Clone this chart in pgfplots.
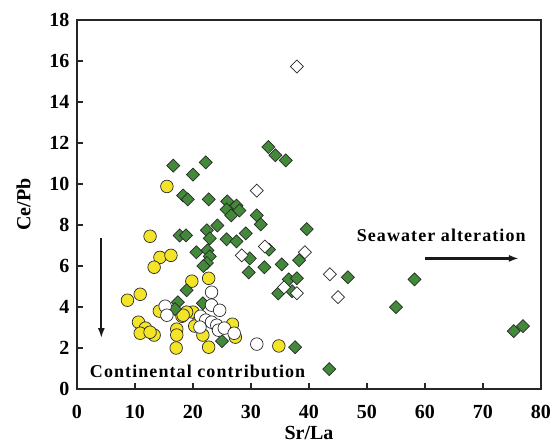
\documentclass[border=0pt]{standalone}
\usepackage{fontspec}
\setmainfont{Liberation Serif}
\newfontfamily\spacedserif[LetterSpace=6]{Liberation Serif}
\usepackage{pgfplots}
\pgfplotsset{compat=1.18}
\usetikzlibrary{arrows.meta}
\definecolor{ygold}{RGB}{244,228,40}
\definecolor{dgreen}{RGB}{66,138,58}
\definecolor{edge}{RGB}{40,40,40}

\begin{document}
\begin{tikzpicture}
\useasboundingbox (-77pt,-55pt) rectangle (473pt,389pt);
\begin{axis}[
  scale only axis, width=464pt, height=369pt,
  xmin=0, xmax=80, ymin=0, ymax=18,
  xtick={0,10,...,80}, ytick={0,2,...,18},
  tick align=inside, xtick pos=bottom, ytick pos=left,
  major tick length=6pt,
  axis line style={line width=1.2pt, black!85},
  every tick/.style={line width=1.2pt, black!85},
  tick label style={font=\fontsize{20}{22}\selectfont\bfseries},
  xticklabel style={yshift=-13pt},
  yticklabel style={xshift=-4pt},
  /pgf/number format/assume math mode=true,
  xlabel={Sr/La}, ylabel={Ce/Pb},
  label style={font=\fontsize{20}{22}\selectfont\bfseries},
  xlabel style={at={(axis description cs:0.5,-0.119)}, anchor=center},
  ylabel style={at={(axis description cs:-0.115,0.5)}, anchor=center, rotate=0},
  clip=false,
]
% basalt group (yellow circles)
\addplot[only marks, mark=*, mark size=6.3pt,
  mark options={fill=ygold, draw=edge, line width=0.7pt}] coordinates {
 (15.5,9.88) (12.6,7.45) (14.3,6.42) (16.2,6.52) (13.3,5.94)
 (19.8,5.26) (22.7,5.40) (8.7,4.33) (10.9,4.62) (10.6,3.26)
 (11.8,2.97) (10.9,2.72) (13.3,2.63) (17.2,2.92) (17.2,2.63)
 (17.1,2.00) (22.7,2.04) (18.1,3.55) (20.0,3.75) (14.2,3.80)
 (21.0,3.30) (20.3,3.07) (21.7,2.63) (26.8,3.16) (27.3,2.53)
 (34.8,2.10) (18.9,3.75) (18.3,3.60) (12.6,2.77)
};
% green diamonds
\addplot[only marks, mark=square*, mark size=4.6pt,
  mark options={rotate=45, fill=dgreen, draw=edge, line width=0.7pt}] coordinates {
 (16.6,10.9) (22.2,11.05) (20.0,10.46) (18.3,9.44) (19.1,9.25)
 (22.7,9.25) (24.2,7.98) (17.7,7.49) (18.8,7.49) (22.4,7.74)
 (22.9,7.35) (20.6,6.67) (22.5,6.76) (25.9,9.15) (27.5,8.95)
 (25.8,8.76) (26.6,8.47) (28.0,8.71) (31.0,8.47) (31.7,8.03)
 (25.8,7.30) (27.5,7.20) (29.1,7.59) (33.0,11.8) (34.2,11.4)
 (36.0,11.15) (39.6,7.80) (33.1,6.80) (29.8,6.37) (32.3,5.94)
 (35.3,6.08) (38.3,6.28) (46.7,5.45) (36.5,5.35) (37.9,5.40)
 (34.7,4.67) (37.1,4.77) (55.0,3.99) (58.2,5.35) (75.3,2.82)
 (76.9,3.07) (43.5,0.97) (25.0,2.34) (37.6,2.04) (29.6,5.69)
 (18.9,4.82) (17.4,4.23) (21.7,4.18) (16.9,3.90) (22.9,6.47)
 (22.4,6.15) (21.8,6.00)
};
% open circles
\addplot[only marks, mark=*, mark size=6.3pt,
  mark options={fill=white, draw=edge, line width=0.7pt}] coordinates {
 (15.2,4.04) (15.5,3.60) (23.2,4.72) (23.2,4.09) (24.6,3.84)
 (21.3,3.55) (22.2,3.36) (21.2,3.02) (23.2,3.26) (24.1,3.11)
 (24.4,2.87) (25.4,2.97) (27.1,2.72) (31.0,2.19)
};
% open diamonds
\addplot[only marks, mark=square*, mark size=4.6pt,
  mark options={rotate=45, fill=white, draw=edge, line width=0.7pt}] coordinates {
 (37.9,15.73) (31.0,9.68) (32.4,6.95) (39.3,6.67) (43.6,5.60)
 (45.0,4.48) (35.7,4.96) (37.9,4.67) (28.4,6.52)
};
% trend arrows and notes
\draw[-{Latex[length=10pt,width=7pt]}, line width=2.2pt, black!90]
  (axis cs:4.2,7.35) -- (axis cs:4.2,2.48);
\draw[-{Latex[length=10pt,width=7pt]}, line width=2.2pt, black!90]
  (axis cs:60.0,6.37) -- (axis cs:76.2,6.37);
\node[font=\spacedserif\fontsize{18}{20}\selectfont\bfseries]
  at (axis cs:62.8,7.5) {Seawater alteration};
\node[font=\spacedserif\fontsize{18}{20}\selectfont\bfseries]
  at (axis cs:20.8,0.88) {Continental contribution};
\end{axis}
\end{tikzpicture}
\end{document}
